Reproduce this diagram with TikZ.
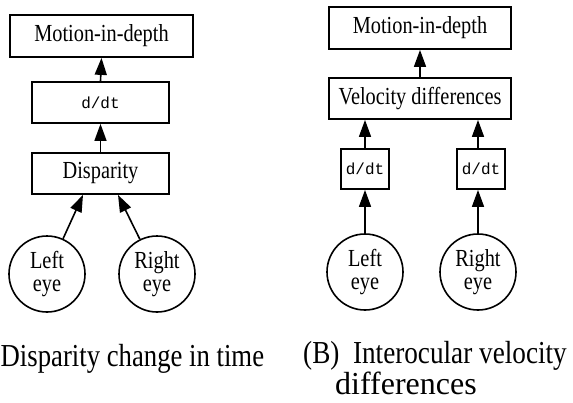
\documentclass[tikz,border=0pt]{standalone}
\usepackage{fontspec}
\setmainfont{Liberation Serif}
\setmonofont{Liberation Mono}
\newfontfamily\boxfont[FakeStretch=0.83]{Liberation Serif}
\newfontfamily\capfont[FakeStretch=0.85]{Liberation Serif}
\newfontfamily\capfontA[FakeStretch=0.835]{Liberation Serif}
\usetikzlibrary{arrows.meta}
\begin{document}
\begin{tikzpicture}[x=1pt,y=-1pt,
  stagebox/.style={draw,line width=1.8pt,inner sep=0pt,font=\boxfont\fontsize{24.5}{24.5}\selectfont},
  dtbox/.style={draw,line width=1.8pt,inner sep=0pt,font=\ttfamily\fontsize{16}{16}\selectfont},
  eye/.style={draw,circle,line width=1.6pt,minimum size=76pt,inner sep=0pt,align=center,font=\boxfont\fontsize{24.5}{23}\selectfont},
  flow/.style={line width=1.6pt,-{Triangle[length=17pt,width=12pt]}},
  caption/.style={inner sep=0pt,font=\capfont\fontsize{32}{28}\selectfont}]
\useasboundingbox (0,0) rectangle (573,402);
% Panel A
\node[stagebox,minimum width=183pt,minimum height=42pt] (mA) at (101.5,36) {Motion-in-depth};
\node[dtbox,minimum width=137pt,minimum height=41pt] (dA) at (100.5,102.5) {d/dt};
\node[stagebox,minimum width=137pt,minimum height=41pt] (pA) at (100.5,173.5) {Disparity};
\node[eye] (lA) at (47,274) {Left\\eye};
\node[eye] (rA) at (157,274) {Right\\eye};
\coordinate (pAl) at ([xshift=-17.5pt]pA.south);
\coordinate (pAr) at ([xshift=17.5pt]pA.south);
\draw[flow] (dA.north) -- (mA.south);
\draw[flow] (pA.north) -- (dA.south);
\draw[flow] (lA) -- (pAl);
\draw[flow] (rA) -- (pAr);
\node[inner sep=0pt,font=\capfontA\fontsize{32}{32}\selectfont,anchor=base west] (cA) at (0.5,366) {Disparity change in time};
% Panel B
\node[stagebox,minimum width=182pt,minimum height=42pt] (mB) at (420,28) {Motion-in-depth};
\node[stagebox,minimum width=182pt,minimum height=41pt] (vB) at (420,98.5) {Velocity differences};
\node[dtbox,minimum width=48pt,minimum height=40pt] (dL) at (365,169) {d/dt};
\node[dtbox,minimum width=48pt,minimum height=40pt] (dR) at (481,169) {d/dt};
\node[eye] (lB) at (365,272) {Left\\eye};
\node[eye] (rB) at (478,272) {Right\\eye};
\draw[flow] (vB.north) -- (mB.south);
\draw[flow] (dL.north) -- (dL.north |- vB.south);
\draw[flow] (rB.north |- dR.north) -- (rB.north |- vB.south);
\draw[flow] (lB.north) -- (dL.south);
\draw[flow] (rB.north) -- (rB.north |- dR.south);
\node[caption,align=left,anchor=base west] (cB) at (303,394) {(B)\ \ Interocular velocity\\\hspace*{32pt}{\rmfamily\fontsize{32}{28}\selectfont differences}};
\end{tikzpicture}
\end{document}
